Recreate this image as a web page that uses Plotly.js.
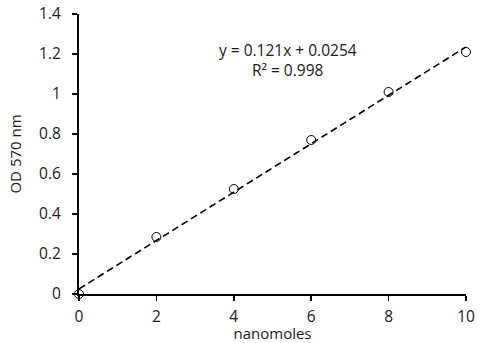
<!DOCTYPE html>
<html><head><meta charset="utf-8">
<script src="https://cdn.plot.ly/plotly-3.0.1.min.js"></script>
<style>html,body{margin:0;padding:0;background:#fff}#c{width:480px;height:343px}</style>
</head><body><div id="c"></div>
<script>
const nanomoles = [0, 2, 4, 6, 8, 10];
const od570 = [0, 0.285, 0.525, 0.77, 1.01, 1.21];
const slope = 0.121;
const intercept = 0.0254;
const rSquared = 0.998;
const xTicks = [0, 2, 4, 6, 8, 10];
const yTicks = [0, 0.2, 0.4, 0.6, 0.8, 1, 1.2, 1.4];
const yTickText = ['0', '0.2', '0.4', '0.6', '0.8', '1', '1.2', '1.4'];

const fitX = [nanomoles[0], nanomoles[nanomoles.length - 1]];
const fitY = fitX.map(x => slope * x + intercept);

const fam = '"Open Sans", sans-serif';
const txt = {family: fam, size: 15.5, color: '#1a1a1a'};
const titleTxt = {family: fam, size: 15, color: '#1a1a1a'};

const data = [
  {x: nanomoles, y: od570, mode: 'markers', type: 'scatter',
   marker: {symbol: 'circle-open', size: 9, color: '#000', line: {width: 1, color: '#000'}},
   cliponaxis: false, showlegend: false},
  {x: fitX, y: fitY, mode: 'lines', type: 'scatter',
   line: {color: '#000', width: 1.6, dash: '7px,4px'}, showlegend: false}
];

const layout = {
  width: 480, height: 343,
  margin: {l: 79, r: 14, t: 14, b: 49},
  paper_bgcolor: '#fff', plot_bgcolor: '#fff',
  font: txt,
  xaxis: {range: [0, 10], tickvals: xTicks, showgrid: false, zeroline: false,
          showline: true, linecolor: '#000', linewidth: 2,
          ticks: 'outside', ticklen: 5, tickwidth: 1.5, tickcolor: '#000',
          ticklabelstandoff: 2,
          tickfont: txt,
          title: {text: 'nanomoles', font: titleTxt, standoff: 6}},
  yaxis: {range: [0, 1.4], tickvals: yTicks, ticktext: yTickText, showgrid: false, zeroline: false,
          showline: true, linecolor: '#000', linewidth: 2,
          ticks: 'outside', ticklen: 5, tickwidth: 1.5, tickcolor: '#000',
          ticklabelstandoff: 8,
          tickfont: txt,
          title: {text: 'OD 570 nm', font: titleTxt, standoff: 14}},
  annotations: [
    {xref: 'paper', yref: 'paper', x: 0.54, y: 0.871, showarrow: false, xanchor: 'center', yanchor: 'middle',
     text: 'y = ' + slope + 'x + ' + intercept, font: txt},
    {xref: 'paper', yref: 'paper', x: 0.54, y: 0.8, showarrow: false, xanchor: 'center', yanchor: 'middle',
     text: 'R² = ' + rSquared, font: txt}
  ]
};

Plotly.newPlot('c', data, layout, {staticPlot: true, displayModeBar: false});
</script>
</body></html>
